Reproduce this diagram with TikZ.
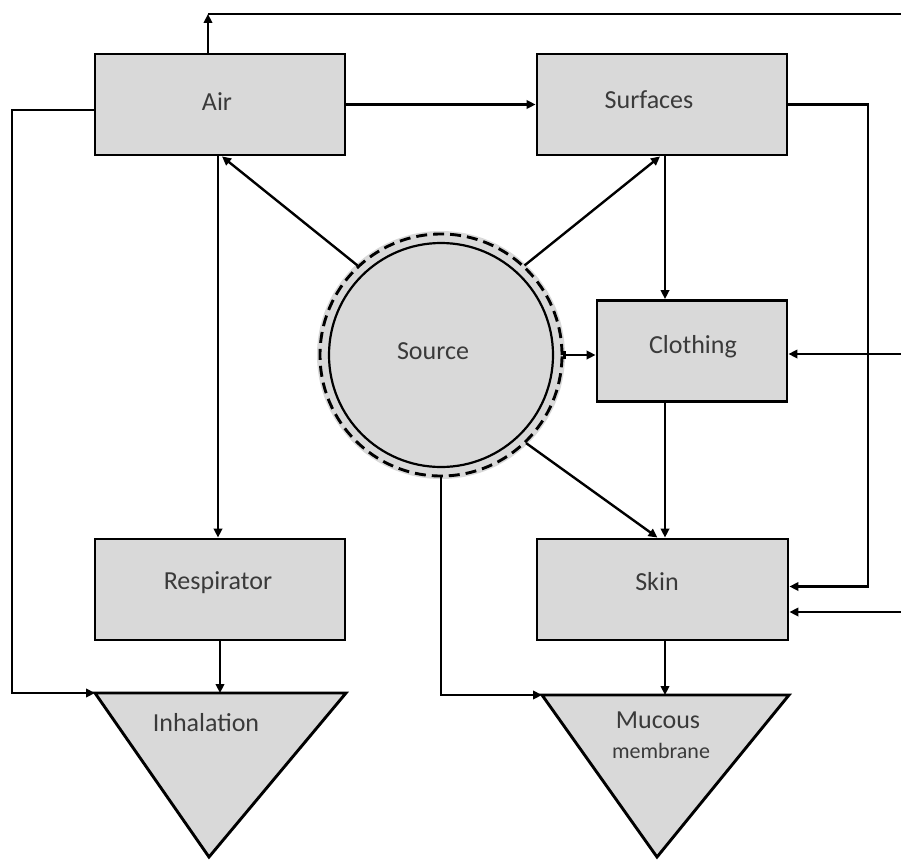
\documentclass[tikz,border=0pt]{standalone}
\usepackage{fontspec}
\setmainfont{Carlito}
\usetikzlibrary{arrows.meta,calc}
\definecolor{boxgray}{HTML}{D9D9D9}
\definecolor{txt}{HTML}{3A3A3A}
\begin{document}
\begin{tikzpicture}[x=1pt,y=-1pt,
  box/.style={draw, line width=2.9pt, fill=boxgray, minimum width=250pt, minimum height=101pt, inner sep=0pt},
  lbl/.style={anchor=base, text=txt, font=\fontsize{26}{30}\selectfont, inner sep=0pt},
  tip/.style={-{Triangle[length=9pt,width=8.5pt]}},
  arr/.style={line width=2.4pt, tip},
  ln/.style={line width=2.4pt},
  tri/.style={draw, fill=boxgray, line width=2.9pt}]
\useasboundingbox (0,0) rectangle (901,859);

% boxes
\node[box] (air) at (220,104.5) {};
\node[box] (surf) at (662,104.5) {};
\node[box, minimum width=190pt] (cloth) at (692,351) {};
\node[box, minimum width=251pt] (skin) at (662.5,589.5) {};
\node[box] (resp) at (220,589.5) {};

% source
\node[circle, fill=boxgray, minimum size=248pt, inner sep=0pt] (srcHalo) at (441,355) {};
\node[circle, draw, fill=boxgray, dash pattern=on 11pt off 6pt, line width=2.9pt, minimum size=242pt, inner sep=0pt] (srcOut) at (441,355) {};
\node[circle, draw, line width=2.2pt, minimum size=224pt, inner sep=0pt] (src) at (441,355) {};

% triangles
\coordinate (inhL) at (95,693);
\coordinate (inhR) at (346,693);
\coordinate (inhB) at (209,857);
\draw[tri] (inhL) -- (inhR) -- (inhB) -- cycle;
\coordinate (mucL) at (542,695);
\coordinate (mucR) at (789,695);
\coordinate (mucB) at (657,857);
\draw[tri] (mucL) -- (mucR) -- (mucB) -- cycle;

% labels
\node[lbl] (tAir) at (217,110) {Air};
\node[lbl] (tSurf) at (649,108) {Surfaces};
\node[lbl] (tCloth) at (693,353) {Clothing};
\node[lbl] (tSkin) at (657,590) {Skin};
\node[lbl] (tResp) at (218,589) {Respirator};
\node[lbl] (tSrc) at (433,359) {Source};
\node[lbl] (tInh) at (206,731) {Inhalation};
\node[lbl] (tMuc) at (658,728) {Mucous};
\node[lbl, font=\fontsize{22}{26}\selectfont] (tMem) at (661,758) {membrane};

% helper coordinates
\coordinate (upx) at (208,14);
\coordinate (topR) at (901,14);
\coordinate (lx) at (12,110);
\coordinate (vx) at (665,0);
\coordinate (rx) at (868,0);
\coordinate (in1) at (901,354);
\coordinate (sk1) at ($(skin.east)+(0,-3)$);
\coordinate (in2) at (901,612);

% connectors
\draw[arr] (upx |- air.north) -- (upx);
\draw[ln] (upx) -- (topR);
\draw[arr] (lx -| air.west) -- (lx) |- (inhL);
\draw[arr] (air.east) -- (surf.west);
\draw[arr] (srcOut.133) -- ($(air.south)+(2,0)$);
\draw[arr] ($(air.south)+(-2,0)$) -- ($(resp.north)+(-2,0)$);
\draw[arr] (resp.south) -- (resp.south |- inhL);
\draw[arr] (srcOut.47) -- ($(surf.south)+(-2,0)$);
\draw[arr] (vx |- surf.south) -- (vx |- cloth.north);
\draw[arr] (vx |- cloth.south) -- (vx |- skin.north);
\draw[arr] (vx |- skin.south) -- (vx |- mucL);
\draw[arr] (srcOut.-46) -- ($(skin.north)+(-5,0)$);
\draw[line width=2.4pt, {Bar[width=8pt]}-{Triangle[length=9pt,width=8.5pt]}] (srcOut.east) -- (srcOut.east -| cloth.west);
\draw[arr] (srcOut.south) |- (mucL);
\draw[arr] (surf.east) -| (rx |- sk1) -- (sk1);
\draw[arr] (in1) -- (in1 -| cloth.east);
\draw[arr] (in2) -- (in2 -| skin.east);
\end{tikzpicture}
\end{document}
